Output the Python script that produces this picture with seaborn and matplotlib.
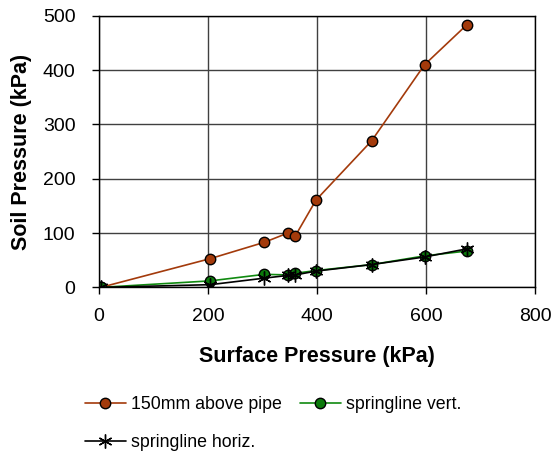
import matplotlib
matplotlib.use('Agg')
import matplotlib.pyplot as plt
import seaborn as sns
import pandas as pd

# values
surface = [3, 204, 303, 346, 360, 398, 500, 597, 675]
above_pipe = [0, 53, 83, 100, 95, 161, 270, 410, 484]
spring_vert = [0, 12, 24, 23, 26, 31, 42, 58, 67]
spring_horiz = [0, 5, 17, 22, 23, 30, 42, 56, 71]

series_names = ['150mm above pipe', 'springline vert.', 'springline horiz.']
x_ticks = [0, 200, 400, 600, 800]
y_ticks = [0, 100, 200, 300, 400, 500]

sns.set_style('white')
plt.rcParams['font.family'] = ['Liberation Sans', 'DejaVu Sans']
plt.rcParams['text.color'] = 'black'
plt.rcParams['axes.labelcolor'] = 'black'

fig = plt.figure(figsize=(5.54, 4.54), dpi=100)
ax = fig.add_axes([0.179, 0.367, 0.787, 0.598])

styles = [
    dict(color='#A33A0B', marker='o', markersize=7.5, markeredgecolor='black', markeredgewidth=1.0, linewidth=1.2),
    dict(color='#108A10', marker='o', markersize=7.5, markerfacecolor='#0B7A0B', markeredgecolor='black', markeredgewidth=1.0, linewidth=1.2),
    dict(color='black', marker=(6, 2, 0), markersize=10, markeredgecolor='black', markeredgewidth=1.0, linewidth=1.2),
]
for name, vals, st in zip(series_names, [above_pipe, spring_vert, spring_horiz], styles):
    df = pd.DataFrame({'x': surface, 'y': vals})
    sns.lineplot(data=df, x='x', y='y', ax=ax, sort=False, label=name, **st)

ax.set_xlim(0, 800)
ax.set_ylim(0, 500)
ax.set_xticks(x_ticks)
ax.set_yticks(y_ticks)
ax.grid(True, color='#404040', linewidth=1.0)
ax.set_axisbelow(True)
for s in ax.spines.values():
    s.set_color('black')
    s.set_linewidth(1.0)
ax.tick_params(axis='both', which='major', direction='out', length=5, width=1, labelsize=14, colors='black', left=True, bottom=True)
ax.tick_params(axis='y', pad=12)
ax.tick_params(axis='x', pad=10)
ax.set_xlabel('Surface Pressure (kPa)', fontsize=15.5, fontweight='bold', labelpad=15)
ax.set_ylabel('Soil Pressure (kPa)', fontsize=15.5, fontweight='bold', labelpad=8)

# row-wise legend order: above pipe, vert. on row 1, horiz. on row 2
handles, labels = ax.get_legend_handles_labels()
order = [0, 2, 1]
ax.legend([handles[i] for i in order], [labels[i] for i in order],
          loc='upper left', bbox_to_anchor=(85 / 554, 0.128), bbox_transform=fig.transFigure,
          ncol=2, frameon=False, borderpad=0, borderaxespad=0,
          fontsize=12.8, handlelength=2.3, handletextpad=0.3, columnspacing=1.0, labelspacing=1.2)

fig.savefig('out.png', dpi=100)
